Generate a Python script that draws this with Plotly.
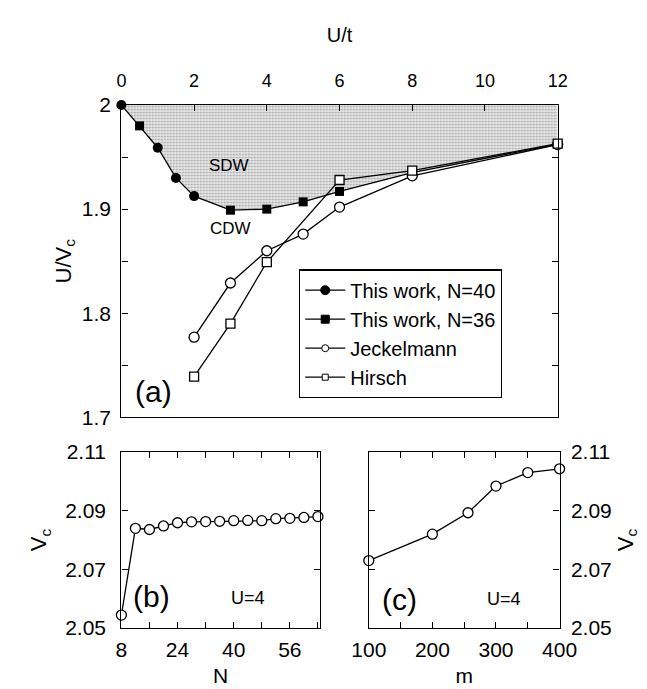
import plotly.graph_objects as go

# ---------------- data ----------------
# panel (a): U/t vs U/Vc
u40 = [0, 1, 1.5, 2]
r40 = [2.0, 1.959, 1.930, 1.9125]
u36 = [0.5, 3, 4, 5, 6]
r36 = [1.980, 1.899, 1.900, 1.907, 1.917]
# phase boundary (this work, joined to the strong-coupling points)
ub = [0, 0.5, 1, 1.5, 2, 3, 4, 5, 6, 8, 12]
rb = [2.0, 1.980, 1.959, 1.930, 1.9125, 1.899, 1.900, 1.907, 1.917, 1.935, 1.9625]
u_jeck = [2, 3, 4, 5, 6, 8, 12]
r_jeck = [1.777, 1.829, 1.860, 1.876, 1.902, 1.932, 1.962]
u_hir = [2, 3, 4, 6, 8, 12]
r_hir = [1.739, 1.790, 1.849, 1.928, 1.937, 1.963]

# panel (b): Vc vs N
n_sites = [8, 12, 16, 20, 24, 28, 32, 36, 40, 44, 48, 52, 56, 60, 64]
vc_n = [2.0544, 2.0840, 2.0836, 2.0848, 2.0859, 2.0862, 2.0863, 2.0864,
        2.0866, 2.0867, 2.0866, 2.0873, 2.0874, 2.0877, 2.0880]

# panel (c): Vc vs m
m_states = [100, 200, 256, 300, 350, 400]
vc_m = [2.0730, 2.0820, 2.0893, 2.0984, 2.1030, 2.1043]

FONT = "Liberation Sans, Arial, Helvetica, sans-serif"
LW = 1.3
MS = 9

fig = go.Figure()

# shaded SDW region (between boundary and U/Vc = 2)
fig.add_trace(go.Scatter(
    x=ub + ub[::-1], y=rb + [2.0] * len(ub),
    fill="toself", mode="none",
    fillcolor="#d4d4d4",
    fillpattern=dict(shape=".", fgcolor="#555555", bgcolor="#ebebeb", size=3, solidity=0.35),
    showlegend=False, hoverinfo="skip", xaxis="x", yaxis="y"))

# boundary line
fig.add_trace(go.Scatter(x=ub, y=rb, mode="lines", line=dict(color="black", width=LW),
                         showlegend=False, xaxis="x", yaxis="y"))

# Jeckelmann
fig.add_trace(go.Scatter(x=u_jeck, y=r_jeck, mode="lines+markers", name="Jeckelmann",
                         line=dict(color="black", width=LW),
                         marker=dict(symbol="circle", size=MS + 1, color="white",
                                     line=dict(color="black", width=LW)),
                         showlegend=False, cliponaxis=False, xaxis="x", yaxis="y"))
# Hirsch
fig.add_trace(go.Scatter(x=u_hir, y=r_hir, mode="lines+markers", name="Hirsch",
                         line=dict(color="black", width=LW),
                         marker=dict(symbol="square", size=MS, color="white",
                                     line=dict(color="black", width=LW)),
                         showlegend=False, cliponaxis=False, xaxis="x", yaxis="y"))
# This work markers
fig.add_trace(go.Scatter(x=u40, y=r40, mode="markers", name="This work, N=40",
                         marker=dict(symbol="circle", size=MS + 1, color="black"),
                         showlegend=False, cliponaxis=False, xaxis="x", yaxis="y"))
fig.add_trace(go.Scatter(x=u36, y=r36, mode="markers", name="This work, N=36",
                         marker=dict(symbol="square", size=MS, color="black"),
                         showlegend=False, cliponaxis=False, xaxis="x", yaxis="y"))

# legend entries
legend_items = [
    ("This work, N=40", "circle", "black", MS),
    ("This work, N=36", "square", "black", MS - 1),
    ("Jeckelmann", "circle", "white", MS - 2),
    ("Hirsch", "square", "white", MS - 3),
]
for name, sym, col, sz in legend_items:
    fig.add_trace(go.Scatter(x=[None], y=[None], mode="lines+markers", name=name,
                             line=dict(color="black", width=LW),
                             marker=dict(symbol=sym, size=sz, color=col,
                                         line=dict(color="black", width=1)),
                             xaxis="x", yaxis="y"))

# panel (b)
fig.add_trace(go.Scatter(x=n_sites, y=vc_n, mode="lines+markers",
                         line=dict(color="black", width=LW),
                         marker=dict(symbol="circle", size=MS + 1, color="white",
                                     line=dict(color="black", width=LW)),
                         showlegend=False, cliponaxis=False, xaxis="x2", yaxis="y2"))
# panel (c)
fig.add_trace(go.Scatter(x=m_states, y=vc_m, mode="lines+markers",
                         line=dict(color="black", width=LW),
                         marker=dict(symbol="circle", size=MS + 1, color="white",
                                     line=dict(color="black", width=LW)),
                         showlegend=False, cliponaxis=False, xaxis="x3", yaxis="y3"))

W, H = 647, 689
def px(v): return v / W
def py(v): return 1 - v / H

axis_common = dict(showline=True, linecolor="black", linewidth=LW, ticks="inside",
                   tickcolor="black", tickwidth=LW, ticklen=6, showgrid=False,
                   zeroline=False)

fig.update_layout(
    width=W, height=H,
    margin=dict(l=0, r=0, t=0, b=0),
    paper_bgcolor="white", plot_bgcolor="white",
    font=dict(family=FONT, color="black", size=18),
    showlegend=True,
    legend=dict(x=px(289), y=py(258), xanchor="left", yanchor="top",
                bordercolor="black", borderwidth=LW, bgcolor="white",
                font=dict(size=20, family=FONT), tracegroupgap=0,
                itemwidth=40),
    xaxis=dict(domain=[px(101), px(563)], anchor="y", side="top", range=[0, 12],
               dtick=2, tick0=0, mirror=True,
               tickfont=dict(size=18), ticklabelstandoff=10,
               title=dict(text="U/t", font=dict(size=20), standoff=22),
               **axis_common),
    yaxis=dict(domain=[py(411), py(88)], anchor="x", range=[1.7, 2.0],
               dtick=0.1, tick0=1.7, mirror="ticks",
               minor=dict(dtick=0.05, ticks="inside", ticklen=6, tickcolor="black", tickwidth=LW),
               tickfont=dict(size=21), ticklabelstandoff=5,
               title=dict(text="U/V<sub>c</sub>", font=dict(size=22), standoff=4),
               **axis_common),
    xaxis2=dict(domain=[px(101), px(311)], anchor="y2", range=[8, 64.5],
                tickvals=[8, 24, 40, 56], mirror="ticks",
                minor=dict(tickvals=[16, 32, 48, 64], ticks="inside", ticklen=6,
                           tickcolor="black", tickwidth=LW),
                tickfont=dict(size=21), ticklabelstandoff=3,
                title=dict(text="N", font=dict(size=21), standoff=7),
                **axis_common),
    yaxis2=dict(domain=[py(629), py(447)], anchor="x2", range=[2.05, 2.11],
                tickvals=[2.05, 2.07, 2.09, 2.11], mirror="ticks",
                tickfont=dict(size=21), ticklabelstandoff=10,
                title=dict(text="V<sub>c</sub>", font=dict(size=22), standoff=12),
                **axis_common),
    xaxis3=dict(domain=[px(363), px(565)], anchor="y3", range=[100, 400],
                tickvals=[100, 200, 300, 400], mirror="ticks",
                minor=dict(tickvals=[150, 250, 350], ticks="inside", ticklen=6,
                           tickcolor="black", tickwidth=LW),
                tickfont=dict(size=21), ticklabelstandoff=3,
                title=dict(text="m", font=dict(size=21), standoff=7),
                **axis_common),
    yaxis3=dict(domain=[py(629), py(447)], anchor="x3", side="right", range=[2.05, 2.11],
                tickvals=[2.05, 2.07, 2.09, 2.11], mirror="ticks",
                tickfont=dict(size=21), ticklabelstandoff=6,
                title=dict(text="V<sub>c</sub>", font=dict(size=22), standoff=6),
                **axis_common),
)

annots = [
    dict(text="SDW", x=2.95, y=1.9416, xref="x", yref="y", font=dict(size=17)),
    dict(text="CDW", x=3.0, y=1.881, xref="x", yref="y", font=dict(size=17)),
    dict(text="(a)", x=0.88, y=1.725, xref="x", yref="y", font=dict(size=30)),
    dict(text="(b)", x=16.7, y=2.0606, xref="x2", yref="y2", font=dict(size=30)),
    dict(text="U=4", x=44.1, y=2.0602, xref="x2", yref="y2", font=dict(size=18)),
    dict(text="(c)", x=147.5, y=2.0596, xref="x3", yref="y3", font=dict(size=30)),
    dict(text="U=4", x=313, y=2.0600, xref="x3", yref="y3", font=dict(size=18)),
]
for a in annots:
    fig.add_annotation(showarrow=False, xanchor="center", yanchor="middle",
                       font_family=FONT, font_color="black", **a)

fig.write_html("out.html")
